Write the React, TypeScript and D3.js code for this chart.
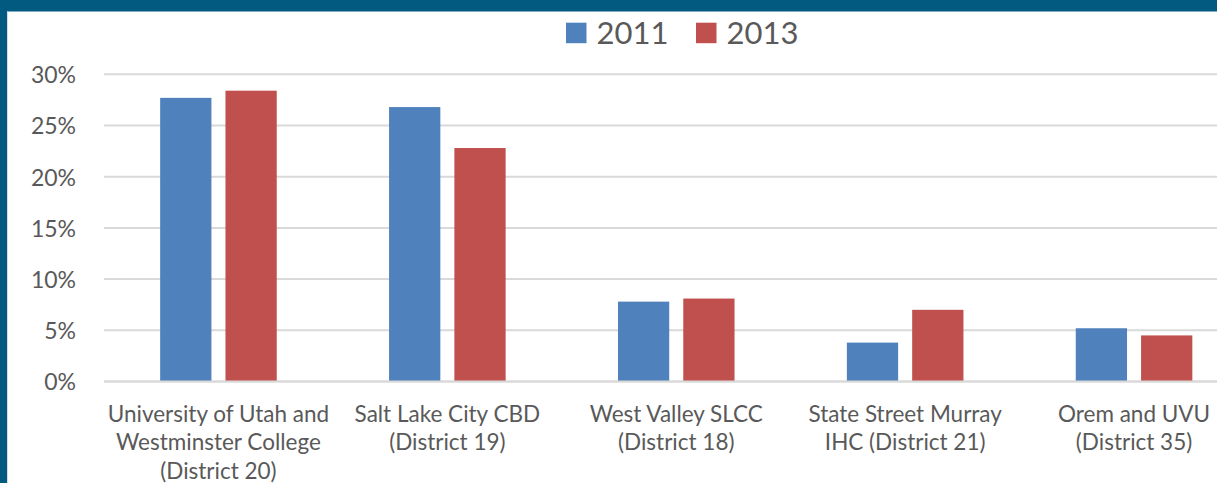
import React from "react";
import * as d3 from "d3";

const categories: string[] = [
  "University of Utah and\nWestminster College\n(District 20)",
  "Salt Lake City CBD\n(District 19)",
  "West Valley SLCC\n(District 18)",
  "State Street Murray\nIHC (District 21)",
  "Orem and UVU\n(District 35)",
];
const seriesNames: string[] = ["2011", "2013"];
const values2011: number[] = [0.277, 0.268, 0.078, 0.038, 0.052];
const values2013: number[] = [0.284, 0.228, 0.081, 0.070, 0.045];
const yTicks: number[] = [0, 0.05, 0.1, 0.15, 0.2, 0.25, 0.3];

const W = 1217;
const H = 483;
const colors = ["#4F81BD", "#C0504D"];
const textColor = "#595959";
const font = "Lato, 'Open Sans', sans-serif";

export default function App() {
  const plotLeft = 104;
  const step = 228.9;
  const x = d3
    .scaleBand<string>()
    .domain(categories)
    .range([plotLeft, plotLeft + step * categories.length])
    .paddingInner(0)
    .paddingOuter(0);
  const xs = d3
    .scaleBand<string>()
    .domain(seriesNames)
    .range([0, x.bandwidth()])
    .paddingInner(0.215)
    .paddingOuter(0.86);
  const y = d3.scaleLinear().domain([0, 0.3]).range([381.5, 74.3]);
  const fmt = d3.format(".0%");
  const series = [values2011, values2013];

  return (
    <svg
      width={W}
      height={H}
      style={{ position: "absolute", left: 0, top: 0, background: "#fff" }}
    >
      <rect x={0} y={0} width={W} height={H} fill="#fff" />
      {/* frame */}
      <rect x={0} y={0} width={W} height={11.5} fill="#025A80" />
      <rect x={0} y={0} width={7} height={H} fill="#025A80" />
      <line x1={7.5} x2={7.5} y1={11.5} y2={H} stroke="#d5dde3" strokeWidth={1} />

      {/* gridlines */}
      {yTicks.map((t) => (
        <line
          key={t}
          x1={plotLeft}
          x2={W}
          y1={y(t)}
          y2={y(t)}
          stroke="#D9D9D9"
          strokeWidth={2}
        />
      ))}
      {/* y tick labels */}
      {yTicks.map((t) => (
        <text
          key={"l" + t}
          x={76}
          y={y(t) + 8.8}
          textAnchor="end"
          fontFamily={font}
          fontSize={23}
          fill={textColor}
        >
          {fmt(t)}
        </text>
      ))}

      {/* bars */}
      {categories.map((c, i) =>
        series.map((vals, s) => {
          const bx = (x(c) as number) + (xs(seriesNames[s]) as number);
          return (
            <rect
              key={c + s}
              x={bx}
              y={y(vals[i])}
              width={xs.bandwidth()}
              height={y(0) - y(vals[i])}
              fill={colors[s]}
            />
          );
        })
      )}
      {/* baseline */}
      <line x1={plotLeft} x2={W} y1={y(0)} y2={y(0)} stroke="#D9D9D9" strokeWidth={2} />

      {/* category labels */}
      {categories.map((c) => {
        const cx = (x(c) as number) + x.bandwidth() / 2;
        return (
          <text
            key={"c" + c}
            textAnchor="middle"
            fontFamily={font}
            fontSize={22.5}
            fill={textColor}
          >
            {c.split("\n").map((line, j) => (
              <tspan key={j} x={cx} y={421.5 + j * 28.6}>
                {line}
              </tspan>
            ))}
          </text>
        );
      })}

      {/* legend */}
      {seriesNames.map((n, s) => {
        const lx = 566 + s * 130;
        return (
          <g key={"lg" + n}>
            <rect x={lx} y={22.7} width={20.5} height={20.5} fill={colors[s]} />
            <text
              x={lx + 30.5}
              y={44}
              fontFamily={font}
              fontSize={31}
              fill={textColor}
            >
              {n}
            </text>
          </g>
        );
      })}
    </svg>
  );
}
